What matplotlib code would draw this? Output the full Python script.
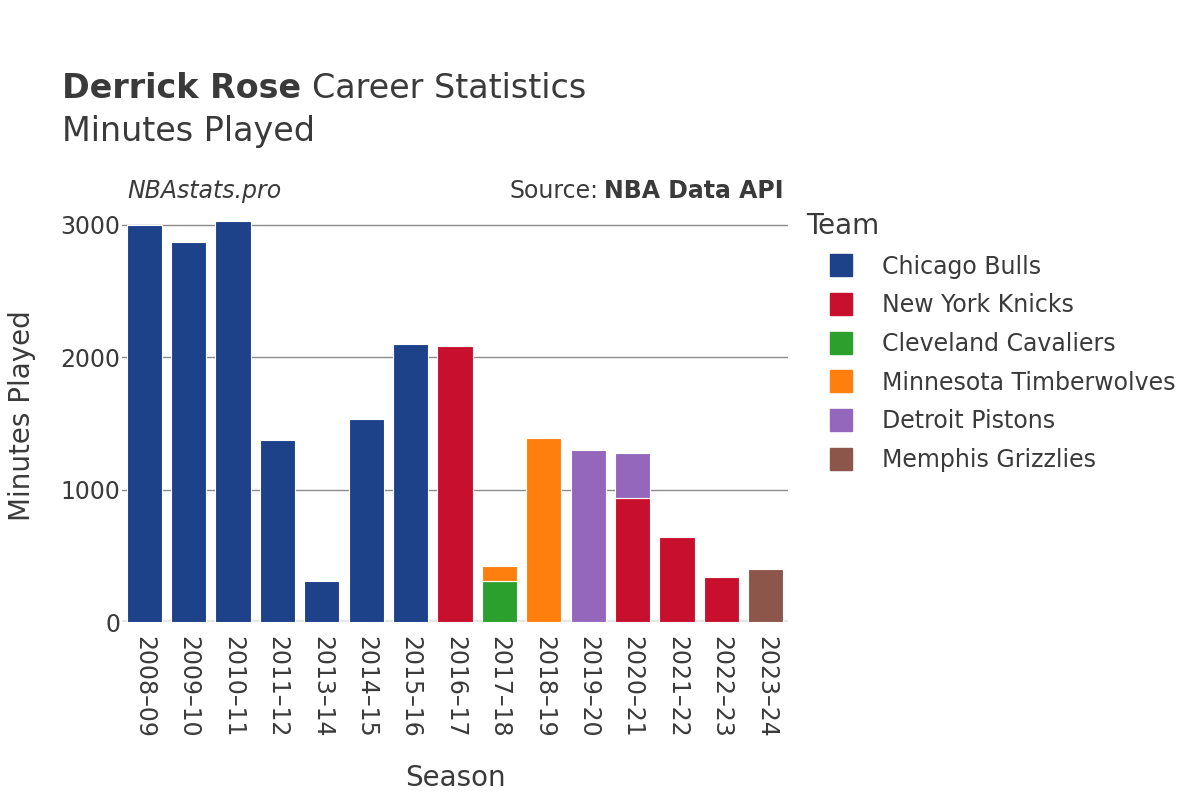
import matplotlib
matplotlib.use("Agg")
import matplotlib.pyplot as plt
import numpy as np
from matplotlib.lines import Line2D

seasons = ["2008–09", "2009–10", "2010–11", "2011–12", "2013–14", "2014–15", "2015–16",
           "2016–17", "2017–18", "2018–19", "2019–20", "2020–21", "2021–22", "2022–23", "2023–24"]
teams = ["Chicago Bulls", "New York Knicks", "Cleveland Cavaliers",
         "Minnesota Timberwolves", "Detroit Pistons", "Memphis Grizzlies"]
colors = ["#1d428a", "#c8102e", "#2ca02c", "#ff7f0e", "#9467bd", "#8c564b"]

chicago = [3000, 2871, 3026, 1375, 311, 1530, 2097, 0, 0, 0, 0, 0, 0, 0, 0]
knicks = [0, 0, 0, 0, 0, 0, 0, 2082, 0, 0, 0, 937, 640, 337, 0]
cleveland = [0, 0, 0, 0, 0, 0, 0, 0, 308, 0, 0, 0, 0, 0, 0]
minnesota = [0, 0, 0, 0, 0, 0, 0, 0, 113, 1392, 0, 0, 0, 0, 0]
detroit = [0, 0, 0, 0, 0, 0, 0, 0, 0, 0, 1298, 340, 0, 0, 0]
memphis = [0, 0, 0, 0, 0, 0, 0, 0, 0, 0, 0, 0, 0, 0, 402]
series = [chicago, knicks, cleveland, minnesota, detroit, memphis]

text_color = "#3a3a3a"
plt.rcParams["font.family"] = ["DejaVu Sans"]

fig = plt.figure(figsize=(12, 8), dpi=100)
ax = fig.add_axes([122 / 1200, 1 - 622 / 800, (788 - 122) / 1200, (622 - 209) / 800])

x = np.arange(len(seasons))
bottom = np.zeros(len(seasons))
for vals, col in zip(series, colors):
    v = np.array(vals, dtype=float)
    mask = v > 0
    ax.bar(x[mask], v[mask], bottom=bottom[mask], width=0.79, color=col,
           edgecolor="white", linewidth=0.8, zorder=3)
    bottom += v

ax.set_xlim(-0.5, len(seasons) - 0.5)
ax.set_ylim(0, 3120)
ax.set_yticks([0, 1000, 2000, 3000])
ax.set_yticklabels(["0", "1000", "2000", "3000"])
ax.set_xticks(x)
ax.set_xticklabels(seasons, rotation=-90)
for s in ax.spines.values():
    s.set_visible(False)
ax.tick_params(axis="both", length=0, labelsize=17, colors=text_color)
ax.tick_params(axis="x", pad=10)
ax.tick_params(axis="y", pad=1)
for yv in [1000, 2000, 3000]:
    ax.axhline(yv, color="#8a8a8a", linewidth=1, zorder=1)
ax.axhline(0, color="#e6e6e6", linewidth=3, zorder=2)

ax.set_xlabel("Season", fontsize=20, color=text_color, labelpad=19)
ax.set_ylabel("Minutes Played", fontsize=20, color=text_color, labelpad=18)

t1 = fig.text(62 / 1200, 1 - 88 / 800, "Derrick Rose", fontsize=24, fontweight="bold",
              color=text_color, va="center")
fig.canvas.draw()
bb = t1.get_window_extent()
fig.text(bb.x1 / 1200 + 11 / 1200, 1 - 88 / 800, "Career Statistics", fontsize=24,
         color=text_color, va="center")
fig.text(62 / 1200, 1 - 131 / 800, "Minutes Played", fontsize=24, color=text_color, va="center")

fig.text(127 / 1200, 1 - 191 / 800, "NBAstats.pro", fontsize=17, style="italic",
         color=text_color, va="center")
t2 = fig.text(784 / 1200, 1 - 191 / 800, "NBA Data API", fontsize=17, fontweight="bold",
              color=text_color, va="center", ha="right")
fig.canvas.draw()
bb2 = t2.get_window_extent()
fig.text(bb2.x0 / 1200 - 6 / 1200, 1 - 191 / 800, "Source:", fontsize=17,
         color=text_color, va="center", ha="right")

handles = [Line2D([0], [0], marker="s", linestyle="none", markersize=16,
                  markerfacecolor=c, markeredgecolor=c) for c in colors]
leg = fig.legend(handles, teams, loc="upper left", bbox_to_anchor=(806 / 1200, 1 - 212 / 800),
                 frameon=False, fontsize=17, title="Team", title_fontsize=20,
                 labelspacing=0.62, handletextpad=0.2, handlelength=3.0,
                 borderaxespad=0, borderpad=0)
leg._legend_box.align = "left"
for txt in leg.get_texts():
    txt.set_color(text_color)
leg.get_title().set_color(text_color)

fig.savefig("out.png", dpi=100)
